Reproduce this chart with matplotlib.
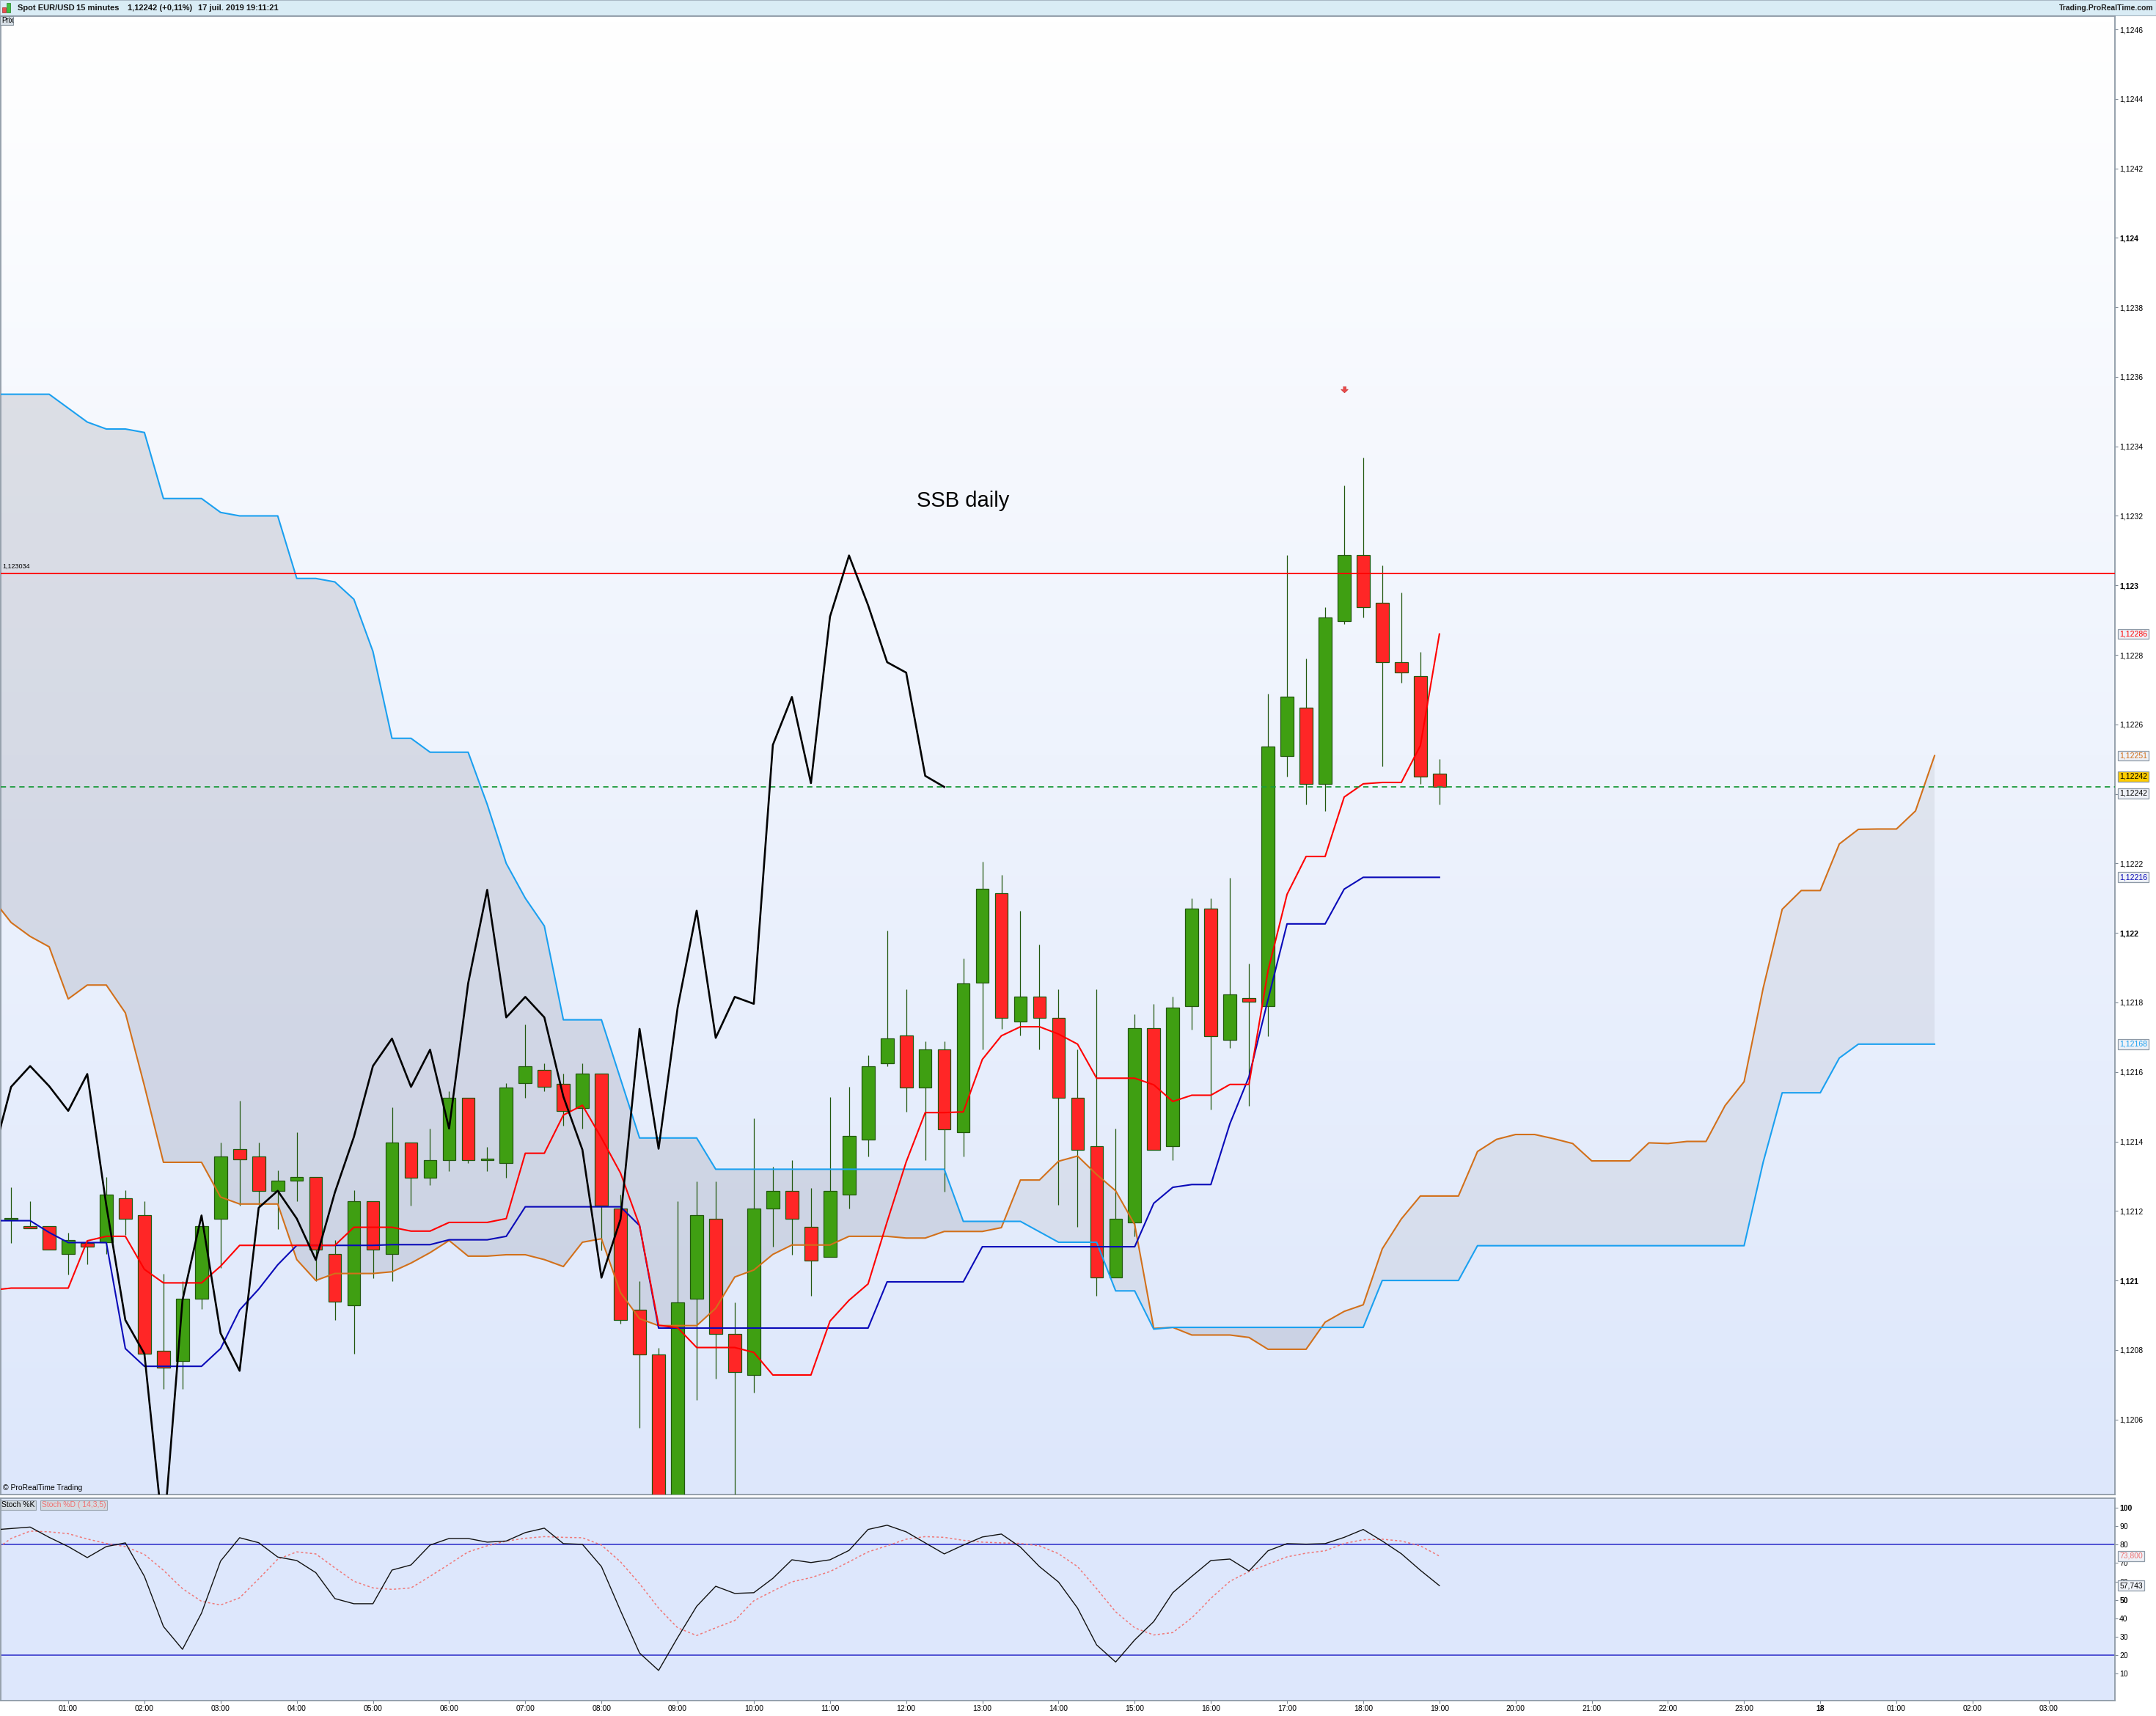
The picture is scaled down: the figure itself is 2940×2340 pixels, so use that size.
import numpy as np
import matplotlib
matplotlib.use("Agg")
import matplotlib.pyplot as plt
from matplotlib.colors import LinearSegmentedColormap
from matplotlib.patches import Rectangle

# bougies 15 minutes, de 00:15 a 19:00 (76 bougies)
candle_start = 0.25   # heure de la premiere bougie
step = 0.25           # 15 minutes en heures

open_ = [
    1.121176, 1.121157, 1.121157, 1.121077,
    1.121107, 1.121109, 1.121237, 1.121189,
    1.120797, 1.120768, 1.120948, 1.121177,
    1.121377, 1.121356, 1.121258, 1.121287,
    1.121298, 1.121076, 1.120928, 1.121229,
    1.121076, 1.121396, 1.121296, 1.121347,
    1.121526, 1.121347, 1.121337, 1.121567,
    1.121606, 1.121566, 1.121497, 1.121596,
    1.121206, 1.120915, 1.120788, 1.120270,
    1.120948, 1.121177, 1.120847, 1.120727,
    1.121206, 1.121257, 1.121155, 1.121068,
    1.121246, 1.121406, 1.121625, 1.121704,
    1.121556, 1.121664, 1.121426, 1.121857,
    1.122115, 1.121746, 1.121817, 1.121756,
    1.121526, 1.121386, 1.121008, 1.121166,
    1.121726, 1.121386, 1.121790, 1.122071,
    1.121692, 1.121812, 1.121790, 1.122509,
    1.122648, 1.122429, 1.122897, 1.123088,
    1.122949, 1.122779, 1.122738, 1.122459,
]
high = [
    1.121268, 1.121229, 1.121157, 1.121138,
    1.121116, 1.121298, 1.121259, 1.121229,
    1.121019, 1.120997, 1.121157, 1.121397,
    1.121517, 1.121397, 1.121317, 1.121427,
    1.121298, 1.121116, 1.121259, 1.121229,
    1.121498, 1.121396, 1.121436, 1.121545,
    1.121526, 1.121385, 1.121567, 1.121737,
    1.121625, 1.121596, 1.121625, 1.121596,
    1.121247, 1.120997, 1.120807, 1.121228,
    1.121286, 1.121286, 1.120937, 1.121467,
    1.121327, 1.121347, 1.121267, 1.121527,
    1.121557, 1.121647, 1.122007, 1.121837,
    1.121687, 1.121687, 1.121926, 1.122206,
    1.122166, 1.122064, 1.121966, 1.121837,
    1.121665, 1.121837, 1.121436, 1.121766,
    1.121796, 1.121817, 1.122100, 1.122100,
    1.122159, 1.121912, 1.122689, 1.123088,
    1.122790, 1.122938, 1.123287, 1.123367,
    1.123058, 1.122979, 1.122808, 1.122500,
]
low = [
    1.121107, 1.121149, 1.121088, 1.121017,
    1.121047, 1.121076, 1.121130, 1.120789,
    1.120687, 1.120687, 1.120917, 1.121037,
    1.121216, 1.121216, 1.121147, 1.121227,
    1.120997, 1.120886, 1.120789, 1.121007,
    1.120997, 1.121216, 1.121275, 1.121314,
    1.121337, 1.121314, 1.121296, 1.121526,
    1.121545, 1.121446, 1.121436, 1.121086,
    1.120875, 1.120576, 1.120200, 1.120220,
    1.120657, 1.120717, 1.120380, 1.120678,
    1.121097, 1.121075, 1.120956, 1.121068,
    1.121206, 1.121356, 1.121616, 1.121486,
    1.121347, 1.121256, 1.121356, 1.121665,
    1.121724, 1.121704, 1.121665, 1.121217,
    1.121155, 1.120956, 1.121008, 1.121126,
    1.121376, 1.121347, 1.121721, 1.121492,
    1.121669, 1.121503, 1.121703, 1.122450,
    1.122370, 1.122350, 1.122888, 1.122908,
    1.122479, 1.122720, 1.122429, 1.122370,
]
close = [
    1.121177, 1.121149, 1.121088, 1.121116,
    1.121098, 1.121247, 1.121177, 1.120789,
    1.120749, 1.120948, 1.121157, 1.121356,
    1.121348, 1.121258, 1.121287, 1.121298,
    1.121088, 1.120938, 1.121229, 1.121088,
    1.121397, 1.121296, 1.121347, 1.121526,
    1.121347, 1.121348, 1.121556, 1.121616,
    1.121557, 1.121487, 1.121596, 1.121216,
    1.120886, 1.120788, 1.120260, 1.120937,
    1.121187, 1.120847, 1.120737, 1.121206,
    1.121257, 1.121178, 1.121057, 1.121257,
    1.121416, 1.121616, 1.121696, 1.121556,
    1.121664, 1.121435, 1.121855, 1.122126,
    1.121756, 1.121817, 1.121756, 1.121526,
    1.121376, 1.121008, 1.121177, 1.121726,
    1.121376, 1.121786, 1.122071, 1.121703,
    1.121823, 1.121801, 1.122537, 1.122679,
    1.122429, 1.122908, 1.123088, 1.122938,
    1.122779, 1.122749, 1.122450, 1.122420,
]

# ichimoku, valeurs toutes les 15 minutes a partir de 00:00
tenkan = [
    1.120972, 1.120978, 1.120978, 1.120978,
    1.120978, 1.121114, 1.121127, 1.121127,
    1.121032, 1.120993, 1.120993, 1.120993,
    1.121041, 1.121101, 1.121101, 1.121101,
    1.121101, 1.121101, 1.121101, 1.121153,
    1.121153, 1.121153, 1.121142, 1.121142,
    1.121167, 1.121167, 1.121167, 1.121178,
    1.121366, 1.121366, 1.121476, 1.121504,
    1.121410, 1.121309, 1.121158, 1.120871,
    1.120864, 1.120807, 1.120807, 1.120807,
    1.120793, 1.120728, 1.120728, 1.120728,
    1.120883, 1.120943, 1.120990, 1.121169,
    1.121341, 1.121483, 1.121483, 1.121485,
    1.121636, 1.121704, 1.121730, 1.121730,
    1.121709, 1.121680, 1.121582, 1.121582,
    1.121582, 1.121563, 1.121515, 1.121533,
    1.121533, 1.121564, 1.121564, 1.121891,
    1.122111, 1.122220, 1.122220, 1.122391,
    1.122429, 1.122433, 1.122433, 1.122539,
    1.122860,
]
kijun = [
    1.121172, 1.121172, 1.121172, 1.121138,
    1.121109, 1.121109, 1.121109, 1.120804,
    1.120753, 1.120753, 1.120753, 1.120753,
    1.120804, 1.120915, 1.120975, 1.121045,
    1.121101, 1.121101, 1.121101, 1.121101,
    1.121101, 1.121103, 1.121103, 1.121103,
    1.121117, 1.121117, 1.121117, 1.121127,
    1.121212, 1.121212, 1.121212, 1.121212,
    1.121212, 1.121212, 1.121158, 1.120863,
    1.120863, 1.120863, 1.120863, 1.120863,
    1.120863, 1.120863, 1.120863, 1.120863,
    1.120863, 1.120863, 1.120863, 1.120996,
    1.120996, 1.120996, 1.120996, 1.120996,
    1.121097, 1.121097, 1.121097, 1.121097,
    1.121097, 1.121097, 1.121097, 1.121097,
    1.121097, 1.121222, 1.121268, 1.121276,
    1.121276, 1.121451, 1.121586, 1.121808,
    1.122026, 1.122026, 1.122026, 1.122126,
    1.122160, 1.122160, 1.122160, 1.122160,
    1.122160,
]
chikou = [
    1.121348, 1.121557, 1.121617, 1.121559,
    1.121488, 1.121594, 1.121216, 1.120886,
    1.120789, 1.120260, 1.120943, 1.121187,
    1.120848, 1.120740, 1.121209, 1.121258,
    1.121178, 1.121059, 1.121253, 1.121413,
    1.121617, 1.121696, 1.121557, 1.121664,
    1.121437, 1.121855, 1.122124, 1.121757,
    1.121816, 1.121757, 1.121529, 1.121376,
    1.121008, 1.121176, 1.121724, 1.121379,
    1.121785, 1.122064, 1.121698, 1.121816,
    1.121796, 1.122541, 1.122679, 1.122431,
    1.122910, 1.123086, 1.122943, 1.122779,
    1.122749, 1.122452, 1.122420,
]
senkou_a = [
    1.122100, 1.122030, 1.121990, 1.121960,
    1.121810, 1.121850, 1.121850, 1.121770,
    1.121560, 1.121340, 1.121340, 1.121340,
    1.121240, 1.121220, 1.121220, 1.121220,
    1.121060, 1.121000, 1.121020, 1.121020,
    1.121020, 1.121025, 1.121050, 1.121080,
    1.121115, 1.121070, 1.121070, 1.121074,
    1.121074, 1.121060, 1.121040, 1.121110,
    1.121120, 1.120965, 1.120890, 1.120870,
    1.120870, 1.120870, 1.120920, 1.121010,
    1.121030, 1.121075, 1.121102, 1.121102,
    1.121102, 1.121127, 1.121127, 1.121127,
    1.121122, 1.121122, 1.121141, 1.121141,
    1.121141, 1.121152, 1.121289, 1.121289,
    1.121343, 1.121358, 1.121305, 1.121258,
    1.121161, 1.120862, 1.120865, 1.120843,
    1.120843, 1.120843, 1.120836, 1.120802,
    1.120802, 1.120802, 1.120880, 1.120911,
    1.120930, 1.121091, 1.121177, 1.121243,
    1.121243, 1.121243, 1.121371, 1.121406,
    1.121420, 1.121420, 1.121408, 1.121394,
    1.121344, 1.121344, 1.121344, 1.121396,
    1.121394, 1.121400, 1.121400, 1.121503,
    1.121572, 1.121841, 1.122068, 1.122122,
    1.122122, 1.122256, 1.122298, 1.122299,
    1.122299, 1.122351, 1.122510,
]
senkou_b = [
    1.123550, 1.123550, 1.123550, 1.123550,
    1.123510, 1.123470, 1.123450, 1.123450,
    1.123440, 1.123250, 1.123250, 1.123250,
    1.123210, 1.123200, 1.123200, 1.123200,
    1.123020, 1.123020, 1.123010, 1.122960,
    1.122810, 1.122560, 1.122560, 1.122520,
    1.122520, 1.122520, 1.122370, 1.122200,
    1.122100, 1.122020, 1.121750, 1.121750,
    1.121750, 1.121580, 1.121410, 1.121410,
    1.121410, 1.121410, 1.121320, 1.121320,
    1.121320, 1.121320, 1.121320, 1.121320,
    1.121320, 1.121320, 1.121320, 1.121320,
    1.121320, 1.121320, 1.121320, 1.121170,
    1.121170, 1.121170, 1.121170, 1.121140,
    1.121110, 1.121110, 1.121110, 1.120970,
    1.120970, 1.120860, 1.120865, 1.120865,
    1.120865, 1.120865, 1.120865, 1.120865,
    1.120865, 1.120865, 1.120865, 1.120865,
    1.120865, 1.121000, 1.121000, 1.121000,
    1.121000, 1.121000, 1.121100, 1.121100,
    1.121100, 1.121100, 1.121100, 1.121100,
    1.121100, 1.121100, 1.121100, 1.121100,
    1.121100, 1.121100, 1.121100, 1.121100,
    1.121100, 1.121340, 1.121540, 1.121540,
    1.121540, 1.121640, 1.121680, 1.121680,
    1.121680, 1.121680, 1.121680,
]

# stochastique, de 00:00 a 19:00
stoch_k = [
    88.0, 88.8, 89.6, 84.0,
    79.0, 73.0, 79.0, 81.0,
    62.8, 35.5, 23.1, 42.8,
    71.1, 83.8, 81.1, 73.3,
    71.4, 64.8, 50.7, 47.9,
    47.9, 66.2, 69.0, 79.8,
    83.4, 83.4, 81.4, 82.0,
    86.6, 89.0, 80.6, 80.2,
    68.1, 44.1, 21.1, 11.6,
    29.5, 46.5, 57.4, 53.5,
    53.9, 61.7, 71.8, 70.3,
    71.8, 76.9, 88.3, 90.6,
    87.0, 81.0, 75.0, 79.8,
    84.2, 85.8, 78.7, 68.1,
    59.7, 45.5, 25.5, 16.2,
    28.2, 38.2, 53.9, 62.8,
    71.4, 72.2, 65.7, 76.7,
    80.6, 80.3, 80.6, 84.0,
    88.3, 82.0, 75.1, 66.1,
    57.743,
]
stoch_d = [
    76.0, 83.4, 87.4, 87.0,
    86.0, 83.1, 80.7, 79.0,
    74.7, 66.1, 56.1, 49.2,
    47.2, 51.1, 61.4, 72.1,
    76.1, 75.0, 67.4, 60.1,
    56.5, 55.7, 56.5, 62.8,
    69.4, 76.1, 79.4, 82.0,
    83.5, 84.4, 84.0, 83.8,
    79.8, 70.7, 58.8, 45.5,
    34.8, 30.6, 34.8, 38.8,
    49.5, 54.8, 59.8, 62.1,
    65.4, 70.7, 76.1, 79.4,
    83.0, 84.4, 84.0, 82.4,
    81.4, 81.0, 80.7, 79.4,
    75.1, 68.1, 56.1, 43.5,
    34.8, 30.9, 32.2, 40.2,
    50.8, 60.1, 65.4, 69.4,
    73.4, 75.4, 76.7, 80.7,
    82.7, 83.0, 82.0, 79.4,
    73.8,
]

ssb_daily = 1.123034       # ligne rouge horizontale
signal_hour = 17.75        # fleche rouge
signal_price = 1.123563

hour_ticks = list(range(1, 28))
hour_labels = ['%02d:00' % (h % 24) for h in hour_ticks]
hour_labels[23] = '18'     # minuit = jour 18

W, H = 2940, 2340


def fx(px):
    return px / W


def fy(py):
    return 1 - py / H


def fmt(v, nd=5):
    return ('%.*f' % (nd, v)).replace('.', ',')


def tag(ax, y, text, fc, tc):
    ax.text(1.0022, y, text, transform=ax.get_yaxis_transform(), fontsize=7.5,
            color=tc, ha='left', va='center', zorder=20, clip_on=False,
            bbox=dict(boxstyle='square,pad=0.18', fc=fc, ec='#8d99a6', lw=0.9))


def main():
    plt.rcParams['font.family'] = ['Liberation Sans', 'DejaVu Sans']

    o = np.array(open_)
    h = np.array(high)
    l = np.array(low)
    c = np.array(close)
    t_c = candle_start + step * np.arange(len(o))
    t_line = step * np.arange(len(tenkan))
    t_span = step * np.arange(len(senkou_a))
    t_chik = step * np.arange(len(chikou))
    t_st = step * np.arange(len(stoch_k))
    x_left, x_right = 0.1157, 27.868

    fig = plt.figure(figsize=(W / 100, H / 100), dpi=100)
    fig.patch.set_facecolor('white')

    price_box = [0.0004, fy(2038), fx(2884) - 0.0004, fy(22) - fy(2038)]
    stoch_box = [0.0004, fy(2319), fx(2884) - 0.0004, fy(2043) - fy(2319)]

    # fond degrade du panneau des prix
    bg = fig.add_axes(price_box, zorder=0)
    cmap = LinearSegmentedColormap.from_list('bg', ['#ffffff', '#dde7fb'])
    bg.imshow(np.linspace(0, 1, 256).reshape(-1, 1), cmap=cmap, aspect='auto',
              extent=[0, 1, 0, 1])
    bg.axis('off')

    ax = fig.add_axes(price_box, zorder=1)
    ax.set_facecolor('none')

    # nuage ichimoku
    sa = np.array(senkou_a)
    sb = np.array(senkou_b)
    ax.fill_between(t_span, sa, sb, where=sb >= sa, interpolate=True,
                    color='#8a8c9c', alpha=0.24, lw=0, zorder=1)
    ax.fill_between(t_span, sa, sb, where=sa >= sb, interpolate=True,
                    color='#9a9caa', alpha=0.16, lw=0, zorder=1)

    # bougies
    up = c >= o
    body_col = np.where(up, '#3f9f12', '#ff2626')
    ax.vlines(t_c, l, h, color='#22580e', lw=0.9, zorder=3)
    ax.bar(t_c, np.maximum(np.abs(c - o), 0.000004), bottom=np.minimum(o, c),
           width=0.17, color=body_col, edgecolor='#22580e', linewidth=0.9, zorder=4)

    # lignes ichimoku
    ax.plot(t_span, senkou_a, color='#d2701a', lw=1.5, zorder=5)
    ax.plot(t_span, senkou_b, color='#1aa0f0', lw=1.5, zorder=5)
    ax.plot(t_line, kijun, color='#0a0ab8', lw=1.5, zorder=6)
    ax.plot(t_line, tenkan, color='#ff0000', lw=1.5, zorder=6)
    ax.plot(t_chik, chikou, color='black', lw=1.9, zorder=7)

    # lignes horizontales
    ax.axhline(ssb_daily, color='#ff0000', lw=1.4, zorder=6)
    ax.axhline(c[-1], color='#1b9a3c', lw=1.3, dashes=(4, 3), zorder=6)
    ax.text(0.0008, ssb_daily + 0.000012, fmt(ssb_daily, 6), transform=ax.get_yaxis_transform(),
            fontsize=6.5, ha='left', va='bottom', zorder=8)

    ax.text(12.75, 1.123243, 'SSB daily', ha='center', va='center', fontsize=21, zorder=8)
    ax.plot([signal_hour], [signal_price], marker=[(-0.3, 0.6), (0.3, 0.6), (0.3, 0.05), (0.7, 0.05),
                                                    (0, -0.6), (-0.7, 0.05), (-0.3, 0.05)],
            ms=7, color='#e84a4a', mec='#c83030', mew=0.5, zorder=8)
    ax.text(0.001, 0.002, '\u00a9 ProRealTime Trading', transform=ax.transAxes, fontsize=7.5,
            ha='left', va='bottom', zorder=8)

    ax.set_xlim(x_left, x_right)
    ax.set_ylim(1.120384, 1.124638)
    ax.set_xticks([])
    ax.yaxis.tick_right()
    yt = np.round(np.arange(1.1206, 1.12461, 0.0002), 4)
    ax.set_yticks(yt)
    # le libelle 1,1224 est cache par l'etiquette du dernier cours
    ylabels = [('%.4f' % v).rstrip('0').replace('.', ',') for v in yt]
    ylabels = ['' if abs(v - round(c[-1], 4)) < 1e-9 else s for v, s in zip(yt, ylabels)]
    ax.set_yticklabels(ylabels)
    for lab, v in zip(ax.get_yticklabels(), yt):
        if abs(v * 1000 - round(v * 1000)) < 1e-6:
            lab.set_fontweight('bold')
    ax.tick_params(axis='y', direction='out', length=3, width=0.8, color='#7d8894',
                   labelsize=7.5, pad=1.5)
    for s in ax.spines.values():
        s.set_color('#8e9aa6')
        s.set_linewidth(1.3)

    # etiquettes de la derniere valeur
    tag(ax, tenkan[-1], fmt(tenkan[-1]), '#eef1f7', '#ff0000')
    tag(ax, senkou_a[-1], fmt(senkou_a[-1]), '#eef1f7', '#d2701a')
    tag(ax, c[-1] + 0.00003, fmt(c[-1]), '#ffcc00', 'black')
    tag(ax, c[-1] - 0.000018, fmt(c[-1]), '#eef1f7', 'black')
    tag(ax, kijun[-1], fmt(kijun[-1]), '#eef1f7', '#0a0ab8')
    tag(ax, senkou_b[-1], fmt(senkou_b[-1]), '#eef1f7', '#1aa0f0')

    # panneau stochastique
    ax2 = fig.add_axes(stoch_box, zorder=1)
    ax2.set_facecolor('#dde7fc')
    ax2.axhline(80, color='#2a2ac8', lw=1.1, zorder=2)
    ax2.axhline(20, color='#2a2ac8', lw=1.1, zorder=2)
    ax2.plot(t_st, stoch_d, color='#f07878', lw=1.1, ls=(0, (2, 2)), zorder=3)
    ax2.plot(t_st, stoch_k, color='#111111', lw=1.0, zorder=4)
    ax2.set_xlim(x_left, x_right)
    ax2.set_ylim(-4.8, 105.3)
    ax2.yaxis.tick_right()
    ax2.set_yticks(range(10, 101, 10))
    ax2.set_yticklabels([str(v) for v in range(10, 101, 10)])
    for lab in ax2.get_yticklabels():
        if lab.get_text() in ('50', '100'):
            lab.set_fontweight('bold')
    ax2.tick_params(axis='y', direction='out', length=3, width=0.8, color='#7d8894',
                    labelsize=7.5, pad=1.5)
    ax2.set_xticks(hour_ticks)
    ax2.set_xticklabels(hour_labels)
    for lab in ax2.get_xticklabels():
        if lab.get_text() == '18':
            lab.set_fontweight('bold')
    ax2.tick_params(axis='x', direction='out', length=3, width=0.8, color='#7d8894',
                    labelsize=7.5, pad=1.5)
    for s in ax2.spines.values():
        s.set_color('#8e9aa6')
        s.set_linewidth(1.3)
    tag(ax2, stoch_d[-1], fmt(stoch_d[-1], 3), '#eef1f7', '#f07070')
    tag(ax2, stoch_k[-1], fmt(stoch_k[-1], 3), '#eef1f7', 'black')
    ax2.text(0.0004, 0.985, 'Stoch %K', transform=ax2.transAxes, fontsize=7.5, ha='left', va='top',
             zorder=8, bbox=dict(boxstyle='square,pad=0.15', fc='#d3dbe2', ec='#9aa4ae', lw=0.8))
    ax2.text(0.0192, 0.985, 'Stoch %D ( 14,3,5)', transform=ax2.transAxes, fontsize=7.5,
             color='#f07070', ha='left', va='top', zorder=8,
             bbox=dict(boxstyle='square,pad=0.15', fc='#d3dbe2', ec='#9aa4ae', lw=0.8))

    # bandeau du haut
    fig.patches.append(Rectangle((0, fy(21)), 1, 21 / H, transform=fig.transFigure,
                                 fc='#d9ecf5', ec='#a8b8c4', lw=0.8, zorder=0))
    fig.patches.append(Rectangle((fx(3), fy(17)), fx(5), 7 / H, transform=fig.transFigure,
                                 fc='#e85050', ec='#a03030', lw=0.5))
    fig.patches.append(Rectangle((fx(9), fy(17)), fx(5), 13 / H, transform=fig.transFigure,
                                 fc='#40c040', ec='#208020', lw=0.5))
    head = [(24, 'Spot EUR/USD'), (104, '15 minutes'), (174, '1,12242 (+0,11%)'),
            (270, '17 juil. 2019 19:11:21')]
    for px, txt in head:
        fig.text(fx(px), fy(11), txt, fontsize=8, fontweight='bold', color='#151515',
                 ha='left', va='center')
    fig.text(fx(2936), fy(11), 'Trading.ProRealTime.com', fontsize=7.5, fontweight='bold',
             color='#202020', ha='right', va='center')

    # onglet Prix
    fig.patches.append(Rectangle((0, fy(34)), fx(18), 12 / H, transform=fig.transFigure,
                                 fc='#d6dee5', ec='#8a96a0', lw=0.8, zorder=5))
    fig.text(fx(2), fy(28), 'Prix', fontsize=7, ha='left', va='center', zorder=6)

    fig.savefig('out.png', dpi=100, facecolor='white')


main()
